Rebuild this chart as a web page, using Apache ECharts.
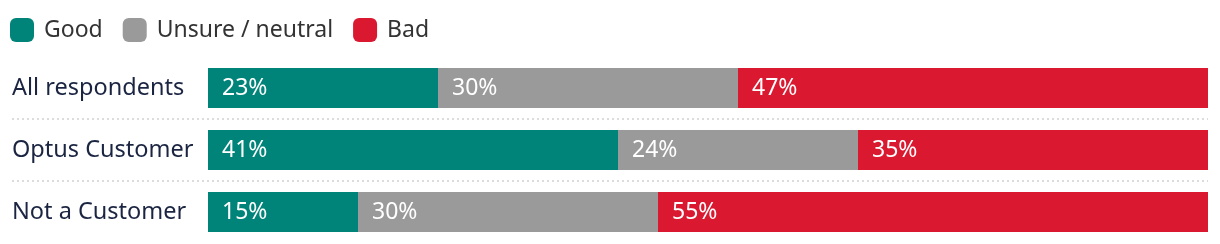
<!DOCTYPE html>
<html><head><meta charset="utf-8">
<script src="https://cdn.jsdelivr.net/npm/echarts@6/dist/echarts.min.js"></script>
<style>html,body{margin:0;padding:0;background:#fff}#c{width:1220px;height:244px}</style>
</head><body><div id="c"></div>
<script>
const categories = ['All respondents', 'Optus Customer', 'Not a Customer'];
const seriesNames = ['Good', 'Unsure / neutral', 'Bad'];
const good = [23, 41, 15];
const unsure = [30, 24, 30];
const bad = [47, 35, 55];
const colors = ['#008479', '#9a9a9a', '#da1830'];
const FONT = 'Noto Sans';

const chart = echarts.init(document.getElementById('c'));
const values = [good, unsure, bad];
chart.setOption({
  animation: false,
  textStyle: { fontFamily: FONT },
  legend: {
    left: 5, top: 13, itemWidth: 24, itemHeight: 24, itemGap: 20,
    icon: 'roundRect',
    textStyle: { fontSize: 23, color: '#333', fontFamily: FONT, padding: [0, 0, 0, 5] },
    data: seriesNames
  },
  grid: { left: 12, right: 12, top: 57, bottom: 1, containLabel: false },
  xAxis: {
    type: 'value', min: -19.6, max: 100, show: false
  },
  yAxis: {
    type: 'category', data: categories, inverse: true,
    axisLine: { show: false }, axisTick: { show: false },
    axisLabel: { inside: true, margin: 0, fontSize: 23.5, color: '#1b2542', fontFamily: FONT },
    splitLine: { show: true, lineStyle: { color: ['transparent', '#dcdcdc', '#dcdcdc', 'transparent'], type: [2, 3], width: 2 } }
  },
  series: seriesNames.map((n, i) => ({
    name: n, type: 'bar', stack: 'all', barWidth: 40,
    itemStyle: { color: colors[i] },
    data: values[i],
    label: { show: true, position: 'insideLeft', distance: 14, color: '#fff', fontSize: 23, fontFamily: FONT, formatter: '{c}%' }
  }))
});
</script></body></html>
